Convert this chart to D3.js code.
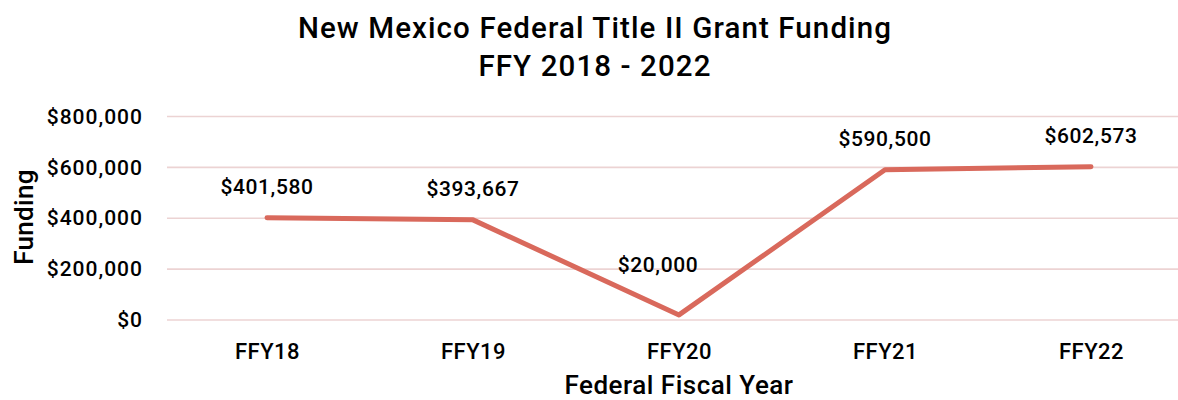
<!DOCTYPE html>
<html>
<head>
<meta charset="utf-8">
<script src="https://cdn.jsdelivr.net/npm/d3@7"></script>
<style>
  html, body { margin: 0; padding: 0; background: #fff; }
  svg text { font-family: Roboto, "DejaVu Sans Condensed", sans-serif; font-weight: 500; fill: #000; }
</style>
</head>
<body>
<svg id="chart" width="1178" height="400"></svg>
<script>
// Title II grant funding by federal fiscal year
const years = ["FFY18", "FFY19", "FFY20", "FFY21", "FFY22"];
const funding = [401580, 393667, 20000, 590500, 602573];
const yTicks = [0, 200000, 400000, 600000, 800000];
const titleLines = ["New Mexico Federal Title II Grant Funding", "FFY 2018 - 2022"];

const svg = d3.select("#chart");
const W = 1178;
const FONT = "Roboto, DejaVu Sans Condensed, sans-serif";
const plot = { left: 164, right: 1194, top: 116.5, bottom: 320 };

const x = d3.scalePoint().domain(years).range([plot.left, plot.right]).padding(0.5);
const y = d3.scaleLinear().domain([0, 800000]).range([plot.bottom, plot.top]);
const money = d3.format("$,");

// horizontal gridlines
svg.append("g")
  .selectAll("line")
  .data(yTicks)
  .join("line")
  .attr("x1", 167).attr("x2", W)
  .attr("y1", d => y(d)).attr("y2", d => y(d))
  .attr("stroke", "#ecd3d3").attr("stroke-width", 1.6);

// y axis labels
const yAxis = d3.axisLeft(y).tickValues(yTicks).tickFormat(money).tickSize(0).tickPadding(0);
svg.append("g")
  .attr("transform", "translate(143,0)")
  .call(yAxis)
  .call(g => g.select(".domain").remove())
  .selectAll("text")
  .attr("font-size", 21).attr("font-weight", 500)
  .attr("letter-spacing", 1)
  .attr("font-family", FONT)
  .attr("fill", "#000");

// x axis labels
const xAxis = d3.axisBottom(x).tickSize(0).tickPadding(0);
svg.append("g")
  .attr("transform", "translate(0,343)")
  .call(xAxis)
  .call(g => g.select(".domain").remove())
  .selectAll("text")
  .attr("font-size", 22).attr("font-weight", 500)
  .attr("letter-spacing", 0.5)
  .attr("font-family", FONT)
  .attr("fill", "#000");

// funding line
svg.append("path")
  .datum(funding)
  .attr("fill", "none")
  .attr("stroke", "#d9695c")
  .attr("stroke-width", 5)
  .attr("stroke-linecap", "round")
  .attr("stroke-linejoin", "round")
  .attr("d", d3.line().x((d, i) => x(years[i])).y(d => y(d)));

// value labels above each point; a label near the baseline is lifted and nudged left off the line
const labelFloor = y(0) - 48;
svg.append("g")
  .selectAll("text")
  .data(funding)
  .join("text")
  .attr("x", (d, i) => x(years[i]) + (y(d) - 24 > labelFloor ? -21 : 0))
  .attr("y", d => Math.min(y(d) - 24, labelFloor))
  .attr("text-anchor", "middle")
  .attr("font-size", 21)
  .attr("letter-spacing", 0.6)
  .text(d => money(d));

// chart title
svg.append("text")
  .attr("x", 595).attr("y", 38)
  .attr("text-anchor", "middle")
  .attr("font-size", 29.5)
  .attr("letter-spacing", 1.1)
  .selectAll("tspan")
  .data(titleLines)
  .join("tspan")
  .attr("x", 595)
  .attr("dy", (d, i) => i === 0 ? 0 : 38)
  .text(d => d);

// axis titles
svg.append("text")
  .attr("x", 679).attr("y", 394)
  .attr("text-anchor", "middle")
  .attr("font-size", 26)
  .attr("letter-spacing", 0.5)
  .text("Federal Fiscal Year");

svg.append("text")
  .attr("transform", "translate(33,217) rotate(-90)")
  .attr("text-anchor", "middle")
  .attr("font-size", 26)
  .attr("letter-spacing", 0.3)
  .text("Funding");
</script>
</body>
</html>
